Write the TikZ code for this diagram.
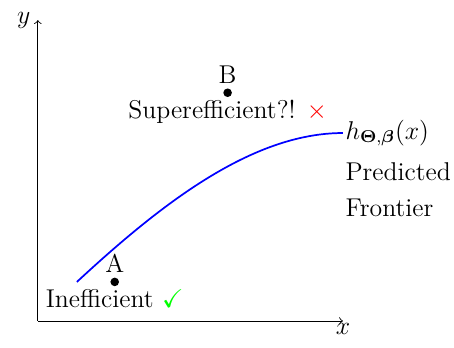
\documentclass[tikz,border=0pt]{standalone}
\usepackage{amsmath, amssymb}
\usepackage{bm}
\usepackage{xcolor}
\usetikzlibrary{positioning}

\begin{document}
\begin{tikzpicture}[
  x=1cm, y=1cm,
  every node/.style={font=\large},
  axis/.style={->},
  frontier/.style={blue, thick},
  dot/.style={circle, fill=black, inner sep=0pt, minimum size=4pt}
]
\useasboundingbox (-0.62,-0.43) rectangle (6.82,5.26);

% Axes
\coordinate (origin) at (0,0);
\coordinate (xend) at (5,0);
\coordinate (yend) at (0,4.93);
\draw[axis] (origin) -- (xend) node[below, inner sep=1pt] {$x$};
\draw[axis] (origin) -- (yend) node[left] {$y$};

% Frontier
\coordinate (fstart) at (0.64,0.64);
\coordinate (fend) at (5,3.08);
\draw[frontier] (fstart) .. controls (2,1.9) and (3.5,3.08) .. (fend);
\node[anchor=west, inner sep=1pt] (hlabel) at (fend) {$h_{\bm{\Theta},\bm{\beta}}(x)$};
\node[below=5pt of hlabel.south west, anchor=north west, align=left, inner sep=1pt] (flabel) {Predicted\\[3pt]Frontier};

% Points
\node[dot] (A) at (1.26,0.64) {};
\node[above=1pt of A, inner sep=1pt] (Alabel) {A};
\node[below=0pt of A, inner sep=1pt] (Atext) {Inefficient \textcolor{green}{$\checkmark$}};
\node[dot] (B) at (3.11,3.74) {};
\node[above=1pt of B, inner sep=1pt] (Blabel) {B};
\node[below=0pt of B, inner sep=1pt] (Btext) {Superefficient?! \textcolor{red}{$\times$}};

\end{tikzpicture}
\end{document}
